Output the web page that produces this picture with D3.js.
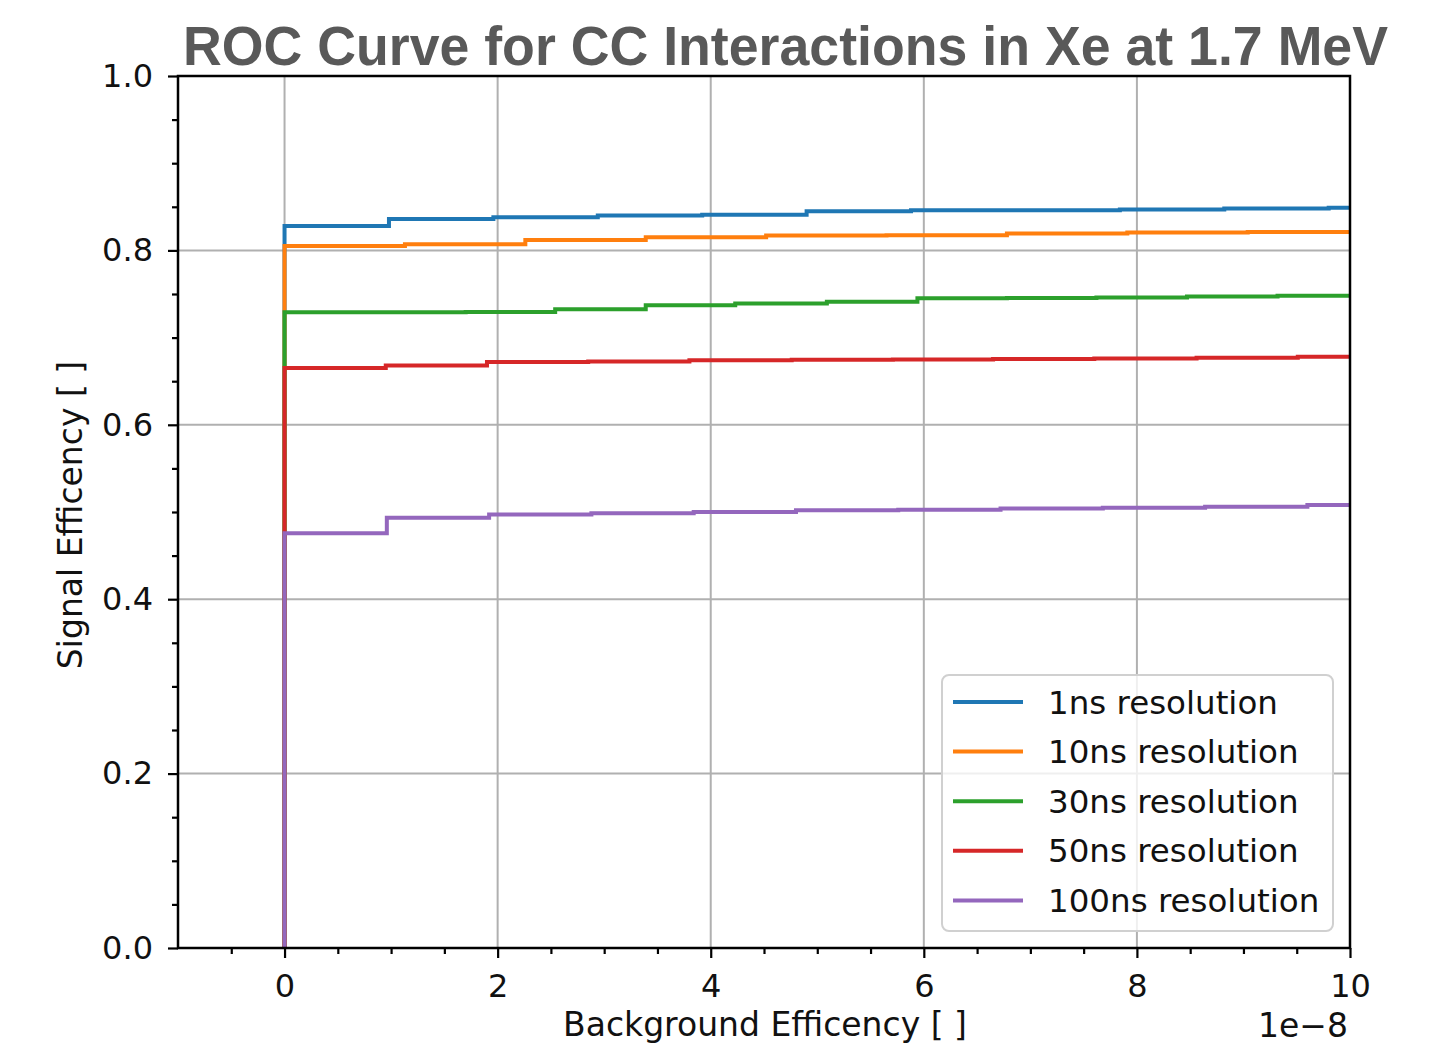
<!DOCTYPE html>
<html lang="en">
<head>
    <meta charset="UTF-8">
    <title>ROC Curve</title>
    <script src="https://cdn.jsdelivr.net/npm/d3@7/dist/d3.min.js"></script>
    <style>
        body { margin: 0; background: white; }
        .tick text { font-family: "DejaVu Sans", sans-serif; font-size: 32px; fill: #111; }
        .grid line { stroke: #b0b0b0; stroke-width: 2px; }
        .series { fill: none; stroke-width: 4px; }
    </style>
</head>
<body>
<svg id="svg" width="1444" height="1047"></svg>
<script>
    // data (background efficiency in units of 1e-8, signal efficiency)
    var seriesNames = ["1ns resolution", "10ns resolution", "30ns resolution", "50ns resolution", "100ns resolution"];
    var seriesColors = ["#1f77b4", "#ff7f0e", "#2ca02c", "#d62728", "#9467bd"];

    var x1ns = [0, 0, 0.98, 1.96, 2.94, 3.92, 4.9, 5.88, 6.86, 7.84, 8.82, 9.8, 10];
    var y1ns = [0, 0.828, 0.836, 0.838, 0.840, 0.841, 0.845, 0.846, 0.846, 0.847, 0.848, 0.849, 0.849];

    var x10ns = [0, 0, 1.13, 2.26, 3.39, 4.52, 5.65, 6.78, 7.91, 9.04, 10];
    var y10ns = [0, 0.805, 0.807, 0.812, 0.815, 0.817, 0.8175, 0.8195, 0.8205, 0.821, 0.821];

    var x30ns = [0, 0, 0.85, 1.7, 2.54, 3.39, 4.23, 5.09, 5.94, 6.78, 7.62, 8.47, 9.32, 10];
    var y30ns = [0, 0.729, 0.7292, 0.7294, 0.7325, 0.737, 0.739, 0.741, 0.745, 0.7455, 0.746, 0.747, 0.748, 0.748];

    var x50ns = [0, 0, 0.95, 1.9, 2.85, 3.8, 4.76, 5.71, 6.65, 7.6, 8.56, 9.51, 10];
    var y50ns = [0, 0.665, 0.668, 0.672, 0.6725, 0.674, 0.6745, 0.675, 0.6755, 0.676, 0.677, 0.678, 0.678];

    var x100ns = [0, 0, 0.96, 1.92, 2.88, 3.84, 4.8, 5.76, 6.72, 7.68, 8.64, 9.6, 10];
    var y100ns = [0, 0.4755, 0.4935, 0.497, 0.4985, 0.500, 0.502, 0.5025, 0.504, 0.505, 0.506, 0.508, 0.508];

    var seriesX = [x1ns, x10ns, x30ns, x50ns, x100ns];
    var seriesY = [y1ns, y10ns, y30ns, y50ns, y100ns];

    var xTicks = [0, 2, 4, 6, 8, 10];
    var yTicks = [0, 0.2, 0.4, 0.6, 0.8, 1.0];

    var margin = {left: 178, right: 94, top: 76, bottom: 99};
    var width = 1444 - margin.left - margin.right,
        height = 1047 - margin.top - margin.bottom;

    var svg = d3.select("#svg");

    var x = d3.scaleLinear().domain([-1, 10]).range([0, width]);
    var y = d3.scaleLinear().domain([0, 1]).range([height, 0]);

    var g = svg.append("g")
        .attr("transform", "translate(" + margin.left + "," + margin.top + ")");

    svg.append("defs").append("clipPath").attr("id", "clip")
        .append("rect").attr("width", width).attr("height", height);

    // grid
    g.append("g").attr("class", "grid")
        .selectAll("line").data(xTicks).enter().append("line")
        .attr("x1", x).attr("x2", x).attr("y1", 0).attr("y2", height);
    g.append("g").attr("class", "grid")
        .selectAll("line").data(yTicks).enter().append("line")
        .attr("y1", y).attr("y2", y).attr("x1", 0).attr("x2", width);

    // curves
    var line = d3.line()
        .curve(d3.curveStepAfter)
        .x(function(d) { return x(d[0]); })
        .y(function(d) { return y(d[1]); });

    var curves = g.append("g").attr("clip-path", "url(#clip)");
    seriesX.forEach(function(xs, i) {
        var pts = xs.map(function(v, j) { return [v, seriesY[i][j]]; });
        curves.append("path")
            .attr("class", "series")
            .attr("stroke", seriesColors[i])
            .attr("d", line(pts));
    });

    // axes
    function styleAxis(sel) {
        sel.select(".domain").remove();
        sel.selectAll(".tick line").attr("stroke", "#000").attr("stroke-width", 2.2);
    }

    var xMinor = d3.range(-0.5, 10.01, 0.5).filter(function(v) { return v % 2 !== 0; });
    var yMinor = d3.range(0.05, 1, 0.05).filter(function(v) { return Math.abs(v * 5 - Math.round(v * 5)) > 1e-6; });

    g.append("g").attr("transform", "translate(0," + height + ")")
        .call(d3.axisBottom(x).tickValues(xMinor).tickSize(6).tickFormat(""))
        .call(styleAxis);
    g.append("g").attr("transform", "translate(0," + height + ")")
        .call(d3.axisBottom(x).tickValues(xTicks).tickSize(10).tickPadding(16).tickFormat(d3.format("d")))
        .call(styleAxis);

    g.append("g")
        .call(d3.axisLeft(y).tickValues(yMinor).tickSize(6).tickFormat(""))
        .call(styleAxis);
    g.append("g")
        .call(d3.axisLeft(y).tickValues(yTicks).tickSize(10).tickPadding(15).tickFormat(d3.format(".1f")))
        .call(styleAxis);

    // spines
    g.append("rect")
        .attr("width", width).attr("height", height)
        .attr("fill", "none").attr("stroke", "#000").attr("stroke-width", 2.5);

    // legend
    var legend = g.append("g").attr("transform", "translate(" + (942 - margin.left) + "," + (675 - margin.top) + ")");
    legend.append("rect")
        .attr("width", 391).attr("height", 256).attr("rx", 7)
        .attr("fill", "white").attr("fill-opacity", 0.8)
        .attr("stroke", "#d0d0d0").attr("stroke-width", 2);
    seriesNames.forEach(function(name, i) {
        var ly = 27 + i * 49.6;
        legend.append("line")
            .attr("x1", 11).attr("x2", 81).attr("y1", ly).attr("y2", ly)
            .attr("stroke", seriesColors[i]).attr("stroke-width", 4);
        legend.append("text")
            .attr("x", 106).attr("y", ly + 11.5)
            .attr("font-family", "DejaVu Sans").attr("font-size", 32.5).attr("fill", "#111")
            .text(name);
    });

    // labels
    svg.append("text")
        .attr("x", 765).attr("y", 1036)
        .attr("text-anchor", "middle")
        .attr("font-family", "DejaVu Sans").attr("font-size", 33).attr("fill", "#111")
        .text("Background Efficency [ ]");
    svg.append("text")
        .attr("x", 1348).attr("y", 1037)
        .attr("text-anchor", "end")
        .attr("font-family", "DejaVu Sans").attr("font-size", 33).attr("fill", "#111")
        .text("1e\u22128");
    svg.append("text")
        .attr("transform", "translate(82,515) rotate(-90)")
        .attr("text-anchor", "middle")
        .attr("font-family", "DejaVu Sans").attr("font-size", 33).attr("fill", "#111")
        .text("Signal Efficency [ ]");

    svg.append("text")
        .attr("x", 183).attr("y", 65)
        .attr("font-family", "Liberation Sans, Arial, sans-serif").attr("font-weight", "bold")
        .attr("font-size", 55).attr("fill", "#595959")
        .attr("textLength", 1205).attr("lengthAdjust", "spacingAndGlyphs")
        .text("ROC Curve for CC Interactions in Xe at 1.7 MeV");
</script>
</body>
</html>
